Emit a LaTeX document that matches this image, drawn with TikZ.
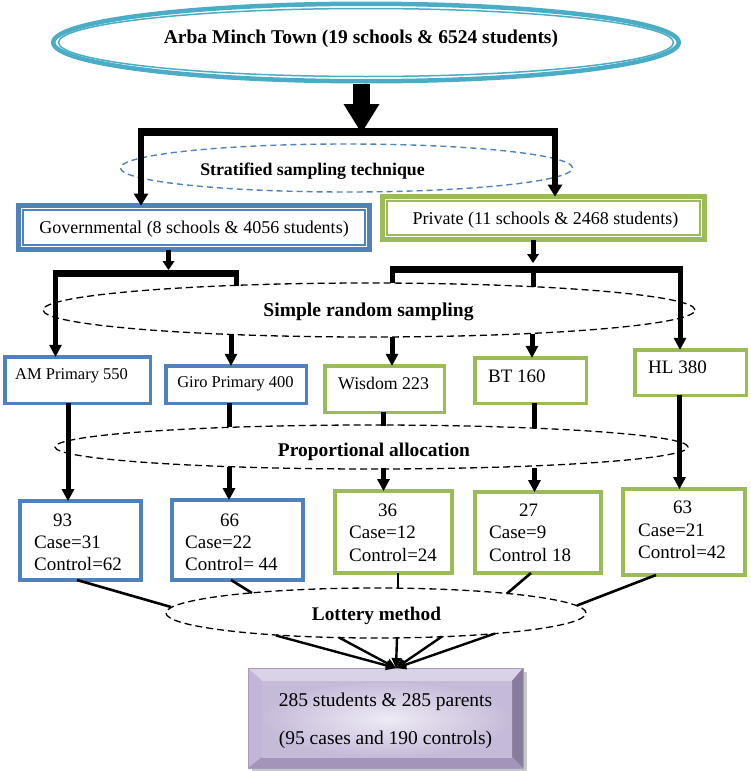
\documentclass[tikz,border=0pt]{standalone}
\usepackage{fontspec}
\setmainfont{Liberation Serif}
\usetikzlibrary{arrows.meta,shapes.geometric,calc}
\definecolor{tealB}{HTML}{4BACC6}
\definecolor{blueB}{HTML}{4F81BD}
\definecolor{greenB}{HTML}{9BBB59}
\definecolor{bevTop}{HTML}{DAD2E7}
\definecolor{bevLeft}{HTML}{C3B5D7}
\definecolor{bevRight}{HTML}{877C99}
\definecolor{bevBot}{HTML}{A395B9}
\definecolor{faceIn}{HTML}{EEEBF4}
\definecolor{faceOut}{HTML}{C6BAD9}
\definecolor{bevLine}{HTML}{A99BC0}
\begin{document}
\begin{tikzpicture}[x=1pt,y=-1pt,
  fnt/.style={font=\rmfamily\mdseries\fontsize{#1pt}{#1pt}\selectfont},
  fntb/.style={font=\rmfamily\fontsize{#1pt}{#1pt}\selectfont\bfseries},
  lbl/.style={inner sep=0pt, anchor=base},
  lblw/.style={inner sep=0pt, anchor=base west},
  bbox/.style={rectangle, draw=blueB, line width=3.5pt, inner sep=0pt, outer sep=0pt},
  gbox/.style={rectangle, draw=greenB, line width=3.5pt, inner sep=0pt, outer sep=0pt},
  dell/.style={ellipse, draw=black, line width=1.3pt, dash pattern=on 7pt off 4pt, inner sep=0pt, outer sep=0pt},
  barln/.style={line width=7pt},
  ln/.style={line width=5pt},
  arr/.style={line width=5pt, -{Triangle[width=13pt,length=12pt,line width=0pt]}},
  thinln/.style={line width=2.6pt},
  tarr/.style={line width=2.4pt, -{Triangle[width=10pt,length=10pt,line width=0pt]}},
]
\useasboundingbox (0,0) rectangle (750,771);

% ---------- top ellipse ----------
\node[ellipse, draw=tealB, line width=4.5pt, minimum width=625.5pt, minimum height=77.5pt, inner sep=0pt, outer sep=0pt] (town) at (366,42.5) {};
\draw[tealB, line width=1.5pt] (town.center) ellipse [x radius=307.5pt, y radius=34pt];
\node[lbl, fntb=19.5] (towntxt) at (361,43.5) {Arba Minch Town (19 schools \& 6524 students)};

% big arrow
\coordinate (a0) at (361.5,84);
\coordinate (j1) at (361.5,133);
\draw[line width=17pt, -{Triangle[width=36pt,length=29pt,line width=0pt]}] (a0) -- (j1);

% bar 1
\coordinate (b1l) at (141,128);
\coordinate (b1r) at (555,128);
\draw[line width=8pt] (138,132) -- (558,132);

% stratified ellipse
\node[dell, draw=blueB, line width=1.4pt, dash pattern=on 6pt off 4pt, minimum width=452pt, minimum height=48pt] (strat) at (346.5,168) {};
\node[lbl, fntb=17.8] at (312.5,175.5) {Stratified sampling technique};

% governmental and private boxes
\node[bbox, line width=5pt, minimum width=351pt, minimum height=44pt] (gov) at (194,227.5) {};
\draw[blueB, line width=1.5pt] (23,210) rectangle (365,245);
\node[lbl, fnt=18] at (194,233) {Governmental (8 schools \& 4056 students)};

\node[gbox, line width=5pt, minimum width=322pt, minimum height=43pt] (priv) at (543.5,218) {};
\draw[greenB, line width=1.5pt] (387,201) rectangle (700,235);
\node[lbl, fnt=18] at (545.5,224) {Private (11 schools \& 2468 students)};

\draw[arr, line width=6pt, -{Triangle[width=15pt,length=12pt,line width=0pt]}] (b1l) -- (b1l |- gov.north);
\draw[arr, line width=6pt, -{Triangle[width=15pt,length=12pt,line width=0pt]}] (b1r) -- (b1r |- priv.north);

% ---------- second level ----------
\coordinate (j2) at (168.5,270);
\draw[arr, -{Triangle[width=12pt,length=9pt,line width=0pt]}] (gov.south -| j2) -- (j2);
\draw[barln] (53,273.5) -- (239,273.5);
\coordinate (b2l) at (55.5,270);
\coordinate (b2r) at (236.5,270);
\coordinate (b2re) at (236.5,285.5);

\coordinate (j3) at (533,263);
\draw[arr, -{Triangle[width=12pt,length=9pt,line width=0pt]}] (priv.south -| j3) -- (j3);
\draw[barln] (390,269) -- (683,269);
\coordinate (p2l) at (392.5,266);
\coordinate (p2le) at (392.5,283);
\coordinate (p2m) at (533,266);
\coordinate (p2me) at (533,287);
\coordinate (p2r) at (680,266);

% simple random sampling
\node[dell, minimum width=652pt, minimum height=54pt] (srs) at (369,310) {};
\node[lbl, fntb=19.6] at (368.5,316) {Simple random sampling};

% row 1 boxes
\node[bbox, minimum width=145.5pt, minimum height=46.5pt] (am) at (77.5,380) {};
\node[bbox, minimum width=140.5pt, minimum height=37.5pt] (giro) at (236,384.5) {};
\node[gbox, minimum width=119.5pt, minimum height=46.5pt] (wis) at (384.5,389) {};
\node[gbox, minimum width=111.5pt, minimum height=45.5pt] (bt) at (530.5,380.5) {};
\node[gbox, minimum width=111.5pt, minimum height=45.5pt] (hl) at (690.5,372.5) {};

\node[lblw, fnt=16.5] at (15,379.5) {AM Primary 550};
\node[lbl, fnt=16.5] at (235.5,387.5) {Giro Primary 400};
\node[lblw, fnt=17.8] at (338,389) {Wisdom 223};
\node[lblw, fnt=19] at (488,382) {BT 160};
\node[lblw, fnt=19] at (648,373) {HL 380};

\draw[arr] (b2l) -- (b2l |- am.north);
\draw[ln] (b2r) -- (b2re);
\draw[ln] (p2l) -- (p2le);
\draw[ln] (p2m) -- (p2me);
\draw[arr] (p2r) -- (p2r |- hl.north);

\coordinate (s1) at (231,334.5);
\coordinate (s2) at (392,337);
\coordinate (s3) at (532,333.5);
\draw[arr] (s1) -- (s1 |- giro.north);
\draw[arr] (s2) -- (s2 |- wis.north);
\draw[arr] (s3) -- (s3 |- bt.north);

% proportional allocation
\node[dell, minimum width=633pt, minimum height=44pt] (pa) at (371.5,447) {};
\node[lbl, fntb=19.4] at (374,456) {Proportional allocation};

% bottom boxes
\node[bbox, line width=4pt, minimum width=121pt, minimum height=79pt] (b93) at (80.5,540.5) {};
\node[bbox, line width=4pt, minimum width=131pt, minimum height=80pt] (b66) at (237.5,540) {};
\node[gbox, line width=4pt, minimum width=117pt, minimum height=82pt] (b36) at (393.5,532) {};
\node[gbox, line width=4pt, minimum width=126pt, minimum height=81pt] (b27) at (538,532.5) {};
\node[gbox, line width=4pt, minimum width=122pt, minimum height=86pt] (b63) at (684,532) {};

\coordinate (xam) at (68,0);
\coordinate (xgi) at (229,0);
\coordinate (xwi) at (383.5,0);
\coordinate (xbt) at (534.5,0);
\coordinate (xhl) at (679.5,0);
\draw[arr] (am.south -| xam) -- (xam |- b93.north);
\draw[ln] (giro.south -| xgi) -- (229,427);
\draw[arr] (229,467) -- (xgi |- b66.north);
\draw[ln] (wis.south -| xwi) -- (383.5,426);
\draw[arr] (383.5,468) -- (xwi |- b36.north);
\draw[ln] (bt.south -| xbt) -- (534.5,428);
\draw[arr] (534.5,468) -- (xbt |- b27.north);
\draw[arr] (hl.south -| xhl) -- (xhl |- b63.north);

\begin{scope}[fnt=19]
\node[lblw] at (53,526.3) {93};
\node[lblw] at (34,548.3) {Case=31};
\node[lblw] at (34,570.3) {Control=62};
\node[lblw] at (220,526.3) {66};
\node[lblw] at (185,548.3) {Case=22};
\node[lblw] at (185,570.3) {Control= 44};
\node[lblw] at (378,516.3) {36};
\node[lblw] at (349,538.3) {Case=12};
\node[lblw] at (349,561.3) {Control=24};
\node[lblw] at (519,516.3) {27};
\node[lblw] at (489,538.3) {Case=9};
\node[lblw] at (489,561.3) {Control 18};
\node[lblw] at (673,513.3) {63};
\node[lblw] at (638,536.3) {Case=21};
\node[lblw] at (638,558.3) {Control=42};
\end{scope}

% lottery
\node[dell, minimum width=420pt, minimum height=50pt] (lot) at (376,613) {};
\node[lbl, fntb=19.3] at (376.5,620) {Lottery method};

\coordinate (l1) at (171,607);
\coordinate (l2) at (252,593);
\coordinate (l3) at (398,588);
\coordinate (l4) at (507,593.5);
\coordinate (l5) at (577,605.5);
\draw[thinln] ([xshift=-3.5pt]b93.south) -- (l1);
\draw[thinln] ([xshift=-6.5pt]b66.south) -- (l2);
\draw[thinln] ([xshift=4.5pt]b36.south) -- (l3);
\draw[thinln] ([xshift=-7pt]b27.south) -- (l4);
\draw[thinln] ([xshift=-28pt]b63.south) -- (l5);

% final box
\fill[black!22] (252,672) rectangle (527,772);
\fill[bevTop] (248,668) -- (523,668) -- (512,681) -- (262,681) -- cycle;
\fill[bevLeft] (248,668) -- (262,681) -- (262,757) -- (248,768) -- cycle;
\fill[bevRight] (523,668) -- (523,768) -- (512,757) -- (512,681) -- cycle;
\fill[bevBot] (248,768) -- (523,768) -- (512,757) -- (262,757) -- cycle;
\shade[inner color=faceIn, outer color=faceOut] (262,681) rectangle (512,757);
\draw[bevLine, line width=0.8pt] (248,668) rectangle (523,768);
\node[rectangle, inner sep=0pt, outer sep=0pt, minimum width=275pt, minimum height=100pt] (fin) at (385.5,718) {};
\node[lbl, fnt=19.5] at (385.5,706) {285 students \& 285 parents};
\node[lbl, fnt=19.5] at (385.5,744) {(95 cases and 190 controls)};

\coordinate (ftip) at ([xshift=10.5pt]fin.north);
\coordinate (m1) at (276,635.5);
\coordinate (m2) at (339,637.5);
\coordinate (m3) at (397,638);
\coordinate (m4) at (442,636.5);
\coordinate (m5) at (495,633.5);
\foreach \m in {m1,m2,m3,m4,m5} \draw[tarr] (\m) -- (ftip);
\end{tikzpicture}
\end{document}
